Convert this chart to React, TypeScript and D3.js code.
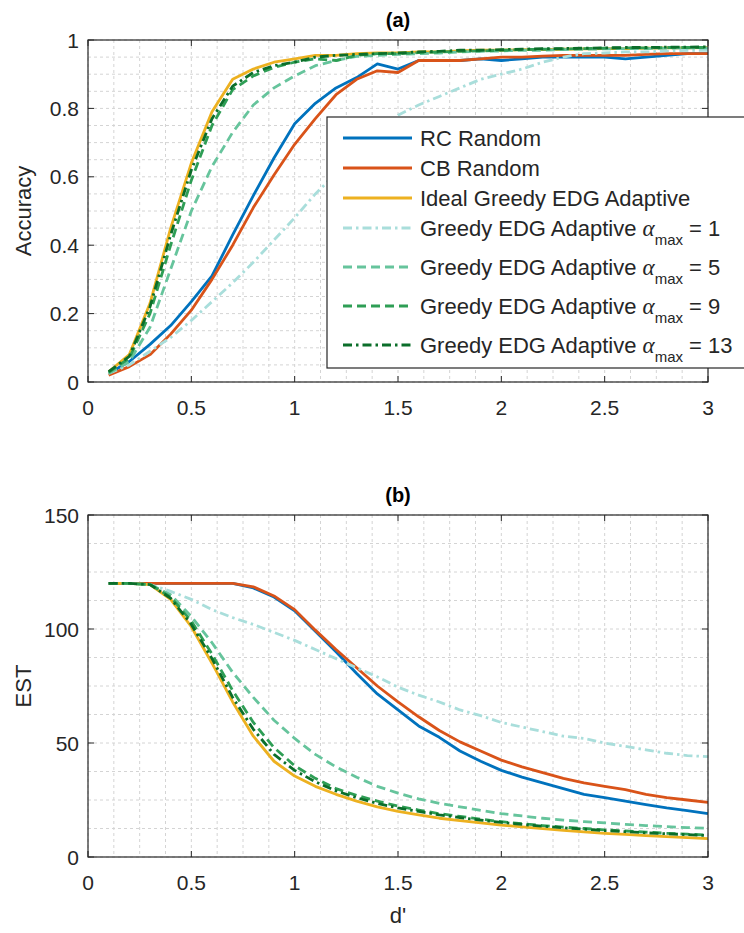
import React from "react";
import * as d3 from "d3";

// ---------- data ----------
const dPrime = [0.1, 0.2, 0.3, 0.4, 0.5, 0.6, 0.7, 0.8, 0.9, 1.0, 1.1, 1.2, 1.3, 1.4, 1.5, 1.6, 1.7, 1.8, 1.9, 2.0, 2.1, 2.2, 2.3, 2.4, 2.5, 2.6, 2.7, 2.8, 2.9, 3.0];

const accRC = [0.025, 0.06, 0.11, 0.165, 0.235, 0.31, 0.43, 0.545, 0.655, 0.755, 0.815, 0.86, 0.89, 0.93, 0.915, 0.94, 0.94, 0.94, 0.945, 0.94, 0.945, 0.95, 0.95, 0.95, 0.95, 0.945, 0.95, 0.955, 0.96, 0.96];
const accCB = [0.02, 0.045, 0.08, 0.14, 0.21, 0.3, 0.4, 0.51, 0.605, 0.695, 0.77, 0.84, 0.885, 0.91, 0.905, 0.94, 0.94, 0.94, 0.945, 0.95, 0.95, 0.953, 0.955, 0.955, 0.955, 0.955, 0.958, 0.96, 0.96, 0.96];
const accIdeal = [0.03, 0.08, 0.23, 0.45, 0.64, 0.79, 0.885, 0.915, 0.935, 0.945, 0.955, 0.955, 0.96, 0.962, 0.962, 0.965, 0.965, 0.968, 0.97, 0.97, 0.972, 0.972, 0.973, 0.974, 0.975, 0.975, 0.976, 0.977, 0.977, 0.978];
const accA1 = [0.025, 0.05, 0.09, 0.13, 0.18, 0.235, 0.29, 0.35, 0.415, 0.48, 0.55, 0.61, 0.67, 0.73, 0.78, 0.81, 0.835, 0.86, 0.885, 0.9, 0.915, 0.935, 0.95, 0.96, 0.962, 0.965, 0.965, 0.968, 0.97, 0.97];
const accA5 = [0.025, 0.06, 0.16, 0.33, 0.5, 0.63, 0.73, 0.81, 0.86, 0.895, 0.925, 0.94, 0.952, 0.955, 0.958, 0.96, 0.962, 0.965, 0.967, 0.968, 0.97, 0.97, 0.972, 0.973, 0.974, 0.975, 0.975, 0.976, 0.977, 0.977];
const accA9 = [0.028, 0.07, 0.2, 0.4, 0.59, 0.75, 0.855, 0.895, 0.92, 0.935, 0.945, 0.94, 0.955, 0.96, 0.96, 0.963, 0.965, 0.967, 0.968, 0.97, 0.972, 0.973, 0.974, 0.975, 0.976, 0.977, 0.977, 0.978, 0.978, 0.978];
const accA13 = [0.03, 0.075, 0.22, 0.43, 0.62, 0.77, 0.865, 0.905, 0.925, 0.935, 0.95, 0.955, 0.958, 0.96, 0.962, 0.965, 0.967, 0.97, 0.97, 0.972, 0.973, 0.975, 0.975, 0.976, 0.977, 0.978, 0.978, 0.979, 0.979, 0.98];

const estRC = [120, 120, 120, 120, 120, 120, 120, 118, 114, 108, 99, 90, 80.5, 71.5, 64.5, 57.5, 52.5, 46.5, 42, 38, 35, 32.5, 30, 27.5, 26, 24.5, 23, 21.5, 20.3, 19];
const estCB = [120, 120, 120, 120, 120, 120, 120, 118.5, 114.5, 108.5, 99.5, 91, 83, 75, 68, 61.5, 55.5, 50.5, 46.5, 42.5, 39.5, 37, 34.5, 32.5, 31, 29.5, 27.5, 26, 25, 24];
const estIdeal = [120, 120, 119.5, 113, 101, 85, 68, 53, 42, 35.5, 31, 27.5, 24.5, 22, 20, 18.5, 17, 16, 15, 14, 13.2, 12.4, 11.7, 11, 10.4, 9.9, 9.4, 8.9, 8.5, 8.1];
const estA1 = [120, 120, 119.5, 116.5, 113, 108.5, 105, 102, 98.5, 95, 91, 87, 83, 79, 74.5, 71, 68, 64.5, 62, 59, 57, 55, 53, 52, 50, 48.5, 47, 45.5, 44.5, 44];
const estA5 = [120, 120, 119.5, 115, 105.5, 94, 81, 70, 60, 52, 45, 39.5, 35, 31, 28, 25.5, 23.5, 22, 20.5, 19, 18, 17, 16.2, 15.5, 15, 14.3, 13.8, 13.3, 12.9, 12.6];
const estA9 = [120, 120, 119.5, 114, 103.5, 89, 73, 59, 48, 40, 34.5, 30, 27, 24.5, 22.3, 20.6, 19, 17.8, 16.6, 15.5, 14.6, 13.8, 13.1, 12.5, 11.9, 11.4, 10.9, 10.4, 10, 9.6];
const estA13 = [120, 120, 119.5, 113.5, 102, 87, 70, 56, 45, 38, 33, 29, 26, 23.5, 21.5, 20, 18.5, 17.3, 16.2, 15.2, 14.3, 13.5, 12.8, 12.2, 11.6, 11.1, 10.6, 10.2, 9.8, 9.4];

const xTicks = [0, 0.5, 1, 1.5, 2, 2.5, 3];
const accTicks = [0, 0.2, 0.4, 0.6, 0.8, 1];
const estTicks = [0, 50, 100, 150];

const seriesNames = ["RC Random", "CB Random", "Ideal Greedy EDG Adaptive", "α1", "α5", "α9", "α13"];
const alphaValues = ["", "", "", "1", "5", "9", "13"];
const seriesColors = ["#0072BD", "#D95319", "#EDB120", "#A9DEDB", "#66C49C", "#2E9E55", "#0B6E2A"];
const seriesDash = ["", "", "", "9,4,2.5,4", "9,5", "9,5", "9,4,2.5,4"];

const accSeries = [accRC, accCB, accIdeal, accA1, accA5, accA9, accA13];
const estSeries = [estRC, estCB, estIdeal, estA1, estA5, estA9, estA13];

// ---------- layout ----------
const W = 744;
const H = 933;
const FONT = "'Liberation Sans', Arial, Helvetica, sans-serif";
const AX = { left: 88, right: 708 };
const PA = { top: 40, bottom: 382 };
const PB = { top: 515, bottom: 857 };
const TXT = "#262626";

function Panel({ top, bottom, yMax, yTicks, yMinorStep, series, title, ylabel, showXLabel, fmtY }) {
  const x = d3.scaleLinear().domain([0, 3]).range([AX.left, AX.right]);
  const y = d3.scaleLinear().domain([0, yMax]).range([bottom, top]);
  const line = (vals) =>
    d3
      .line()
      .x((_, i) => x(dPrime[i]))
      .y((v) => y(v))(vals);
  const xMinor = d3.range(0, 3.0001, 0.125);
  const yMinor = d3.range(0, yMax + 1e-9, yMinorStep);
  const tl = 6;
  return (
    <g>
      {xMinor.map((v, i) => (
        <line key={"gx" + i} x1={x(v)} x2={x(v)} y1={top} y2={bottom} stroke="#d4d4d4" strokeWidth={1} strokeDasharray="3,3" />
      ))}
      {yMinor.map((v, i) => (
        <line key={"gy" + i} x1={AX.left} x2={AX.right} y1={y(v)} y2={y(v)} stroke="#d4d4d4" strokeWidth={1} strokeDasharray="3,3" />
      ))}
      {series.map((vals, i) => (
        <path
          key={"s" + i}
          d={line(vals)}
          fill="none"
          stroke={seriesColors[i]}
          strokeWidth={2.8}
          strokeDasharray={seriesDash[i] || undefined}
          strokeLinejoin="round"
        />
      ))}
      <rect x={AX.left} y={top} width={AX.right - AX.left} height={bottom - top} fill="none" stroke={TXT} strokeWidth={1.2} />
      {xTicks.map((v, i) => (
        <g key={"xt" + i}>
          <line x1={x(v)} x2={x(v)} y1={bottom} y2={bottom - tl} stroke={TXT} strokeWidth={1} />
          <line x1={x(v)} x2={x(v)} y1={top} y2={top + tl} stroke={TXT} strokeWidth={1} />
          <text x={x(v)} y={bottom + 33} textAnchor="middle" fontSize={21} fill={TXT} fontFamily={FONT}>
            {String(v)}
          </text>
        </g>
      ))}
      {yTicks.map((v, i) => (
        <g key={"yt" + i}>
          <line x1={AX.left} x2={AX.left + tl} y1={y(v)} y2={y(v)} stroke={TXT} strokeWidth={1} />
          <line x1={AX.right} x2={AX.right - tl} y1={y(v)} y2={y(v)} stroke={TXT} strokeWidth={1} />
          <text x={79} y={y(v) + 7.5} textAnchor="end" fontSize={21} fill={TXT} fontFamily={FONT}>
            {fmtY(v)}
          </text>
        </g>
      ))}
      <text x={(AX.left + AX.right) / 2} y={top - 13} textAnchor="middle" fontSize={20} fontWeight="bold" fill="#000" fontFamily={FONT}>
        {title}
      </text>
      <text
        transform={`translate(31,${(top + bottom) / 2}) rotate(-90)`}
        textAnchor="middle"
        fontSize={22}
        fill={TXT}
        fontFamily={FONT}
      >
        {ylabel}
      </text>
      {showXLabel && (
        <text x={(AX.left + AX.right) / 2} y={923} textAnchor="middle" fontSize={22} fill={TXT} fontFamily={FONT}>
          d'
        </text>
      )}
    </g>
  );
}

function Legend() {
  const rows = [138, 168, 198, 228, 267, 306, 345];
  const lx = 327;
  const ly = 117;
  return (
    <g>
      <rect x={lx} y={ly} width={440} height={251} fill="#fff" stroke={TXT} strokeWidth={1.2} />
      {seriesNames.map((name, i) => (
        <g key={"lg" + i}>
          <line
            x1={343}
            x2={412}
            y1={rows[i]}
            y2={rows[i]}
            stroke={seriesColors[i]}
            strokeWidth={2.8}
            strokeDasharray={seriesDash[i] || undefined}
          />
          {alphaValues[i] === "" ? (
            <text x={420} y={rows[i] + 7.5} fontSize={22} fill={TXT} fontFamily={FONT}>
              {name}
            </text>
          ) : (
            <text x={420} y={rows[i] + 7.5} fontSize={22} fill={TXT} fontFamily={FONT}>
              Greedy EDG Adaptive{" "}
              <tspan fontFamily="'Liberation Serif', 'Times New Roman', serif" fontStyle="italic" fontSize={23}>
                α
              </tspan>
              <tspan fontSize={15} dy={9}>
                max
              </tspan>
              <tspan dy={-9}>{" = " + alphaValues[i]}</tspan>
            </text>
          )}
        </g>
      ))}
    </g>
  );
}

export default function App() {
  return (
    <svg width={W} height={H} style={{ position: "absolute", left: 0, top: 0, background: "#fff" }} xmlns="http://www.w3.org/2000/svg">
      <rect x={0} y={0} width={W} height={H} fill="#fff" />
      <Panel
        top={PA.top}
        bottom={PA.bottom}
        yMax={1}
        yTicks={accTicks}
        yMinorStep={0.05}
        series={accSeries}
        title="(a)"
        ylabel="Accuracy"
        showXLabel={false}
        fmtY={(v) => String(v)}
      />
      <Legend />
      <Panel
        top={PB.top}
        bottom={PB.bottom}
        yMax={150}
        yTicks={estTicks}
        yMinorStep={12.5}
        series={estSeries}
        title="(b)"
        ylabel="EST"
        showXLabel={true}
        fmtY={(v) => String(v)}
      />
    </svg>
  );
}
